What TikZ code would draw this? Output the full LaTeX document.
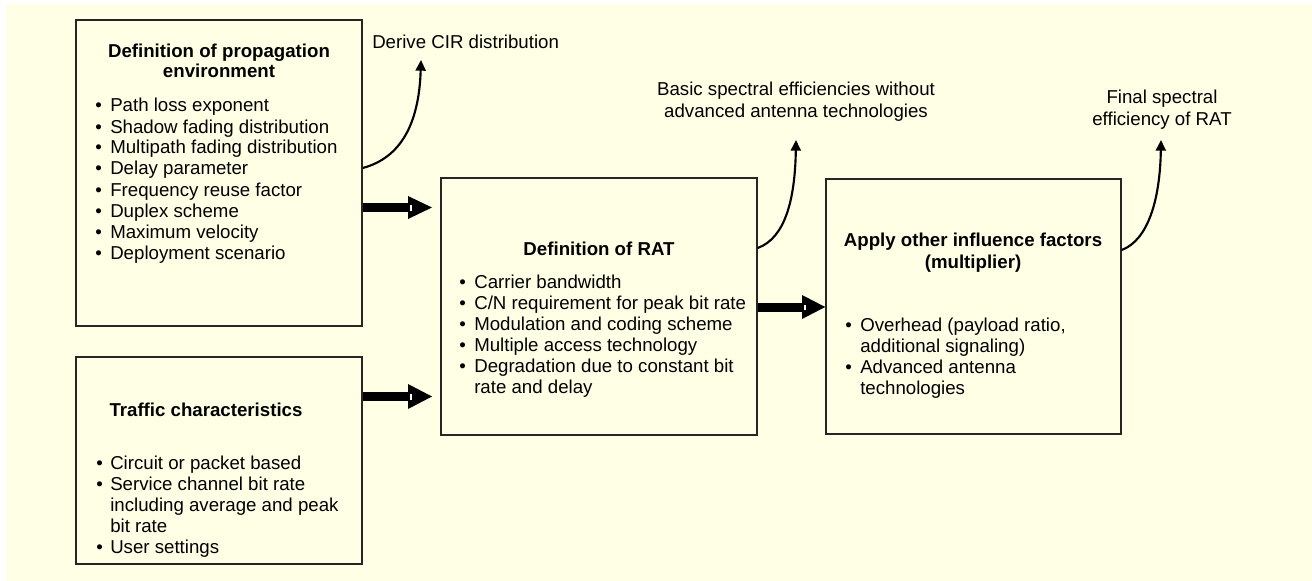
\documentclass[tikz,border=0pt]{standalone}
\usepackage{fontspec}
\setmainfont{Liberation Sans}
\usetikzlibrary{arrows.meta,fit}
\definecolor{bgyellow}{RGB}{255,255,229}
\newcommand\fsz{\fontsize{14}{15.75}\selectfont}
\tikzset{
  box/.style={draw=black!85, line width=1.1pt, inner sep=0pt},
  txt/.style={anchor=base west, inner sep=0pt, font=\fsz},
  ttl/.style={anchor=base, inner sep=0pt, font=\fsz\bfseries},
  lbl/.style={anchor=base, inner sep=0pt, font=\fsz},
  bul/.style={anchor=base west, inner sep=0pt, font=\fsz},
  curvearrow/.style={line width=1.6pt, -{Triangle[width=7.5pt,length=8pt]}},
}
\begin{document}
\begin{tikzpicture}[x=0.75pt,y=-0.75pt]
\useasboundingbox (0,0) rectangle (1312,581);
\fill[white] (0,0) rectangle (1312,581);
\fill[bgyellow] (6,4) rectangle (1312,581);

% boxes
\node[box, fit={(76,20) (362,326)}] (b1) {};
\node[box, fit={(76,357) (362,564)}] (b2) {};
\node[box, fit={(441,178) (757,435)}] (b3) {};
\node[box, fit={(826,179) (1121,434)}] (b4) {};

% box 1
\node[ttl] (t1a) at (219,58) {Definition of propagation};
\node[ttl] (t1b) at (219,78) {environment};
\foreach \t [count=\i] in {Path loss exponent, Shadow fading distribution, Multipath fading distribution, Delay parameter, Frequency reuse factor, Duplex scheme, Maximum velocity, Deployment scenario}{
  \node[bul] (pb\i) at (95,91+21*\i) {\textbullet};
  \node[txt] (pt\i) at (110,91+21*\i) {\t};
}

% box 2
\node[ttl] (t2) at (206,416) {Traffic characteristics};
\node[bul] (qb1) at (96,469) {\textbullet};
\node[txt] (qt1) at (110,469) {Circuit or packet based};
\node[bul] (qb2) at (96,490) {\textbullet};
\node[txt] (qt2) at (110,490) {Service channel bit rate};
\node[txt] (qt3) at (110,511) {including average and peak};
\node[txt] (qt4) at (110,532) {bit rate};
\node[bul] (qb5) at (96,553) {\textbullet};
\node[txt] (qt5) at (110,553) {User settings};

% box 3
\node[ttl] (t3) at (599,255) {Definition of RAT};
\foreach \t [count=\i] in {Carrier bandwidth, C/N requirement for peak bit rate, Modulation and coding scheme, Multiple access technology, Degradation due to constant bit}{
  \node[bul] (rb\i) at (459,267+21*\i) {\textbullet};
  \node[txt] (rt\i) at (474,267+21*\i) {\t};
}
\node[txt] (rt6) at (474,393) {rate and delay};

% box 4
\node[ttl] (t4a) at (973,246) {Apply other influence factors};
\node[ttl] (t4b) at (973,268) {(multiplier)};
\node[bul] (sb1) at (845,331) {\textbullet};
\node[txt] (st1) at (860,331) {Overhead (payload ratio,};
\node[txt] (st2) at (860,352) {additional signaling)};
\node[bul] (sb3) at (845,373) {\textbullet};
\node[txt] (st3) at (860,373) {Advanced antenna};
\node[txt] (st4) at (860,394) {technologies};

% labels
\node[txt] (l1) at (372,49) {Derive CIR distribution};
\node[lbl] (l2a) at (796,96) {Basic spectral efficiencies without};
\node[lbl] (l2b) at (796,118) {advanced antenna technologies};
\node[lbl] (l3a) at (1162,104) {Final spectral};
\node[lbl] (l3b) at (1162,126) {efficiency of RAT};

% curved arrows
\coordinate (c1) at (421,60);
\coordinate (c2) at (796,140);
\coordinate (c3) at (1161,140);
\draw[curvearrow] (b1.east |- 0,168) .. controls (400,158) and (419,125) .. (c1);
\draw[curvearrow] (b3.east |- 0,248) .. controls (785,238) and (795,200) .. (c2);
\draw[curvearrow] (b4.east |- 0,250) .. controls (1148,240) and (1160,200) .. (c3);

% block arrows
\fill[black] (b1.east |- 0,203) rectangle (410,212);
\fill[black] (408,196) -- (432,207.5) -- (408,219) -- cycle;
\fill[white] (409.5,204.5) rectangle (411.5,210.5);

\fill[black] (b2.east |- 0,392) rectangle (410,401);
\fill[black] (408,384) -- (432,396.5) -- (408,409) -- cycle;
\fill[white] (409.5,393.5) rectangle (411.5,399.5);

\fill[black] (b3.east |- 0,303) rectangle (804,311.5);
\fill[black] (802,295) -- (b4.west |- 0,307) -- (802,319) -- cycle;
\fill[white] (803.5,304.5) rectangle (805.5,310);
\end{tikzpicture}
\end{document}
